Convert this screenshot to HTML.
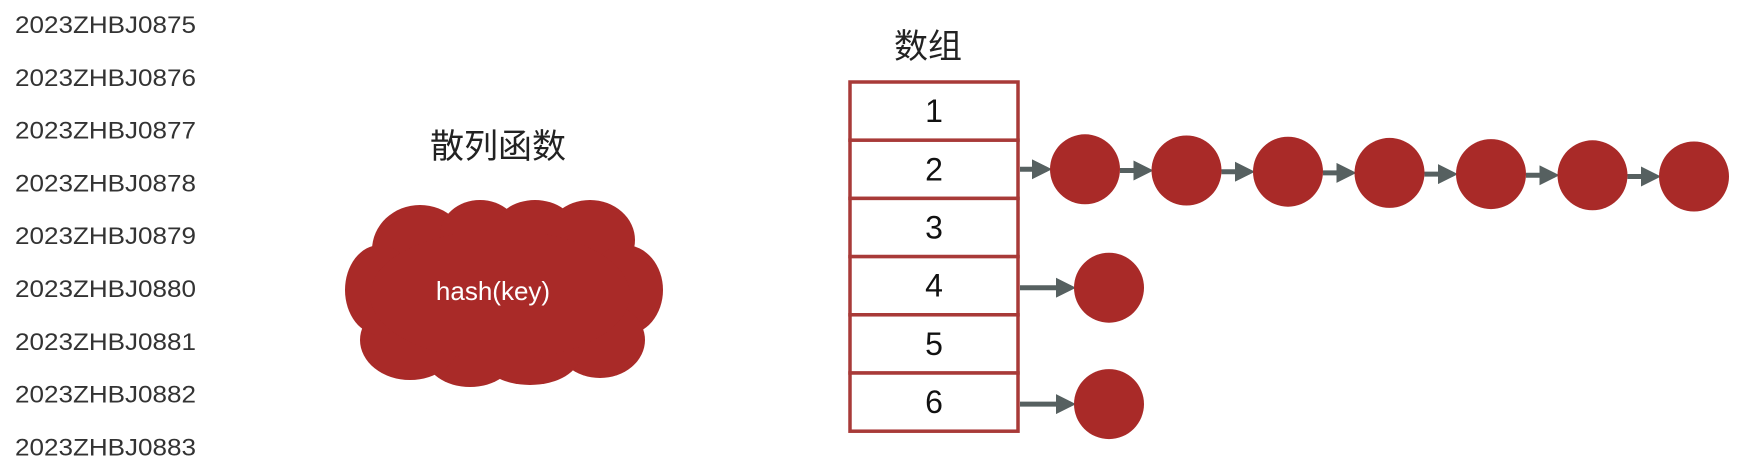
<!DOCTYPE html>
<html><head><meta charset="utf-8"><style>
html,body{margin:0;padding:0;background:#fff;width:1740px;height:462px;overflow:hidden}
text{font-family:"Liberation Sans","Noto Sans CJK SC",sans-serif}
</style></head><body>
<svg id="s" width="1740" height="462" viewBox="0 0 1740 462">
<defs><marker id="ah" markerWidth="4" markerHeight="4" refX="3" refY="2" orient="auto" markerUnits="strokeWidth"><path d="M0,0 L4,2 L0,4 z" fill="#566060"/></marker></defs>
<g id="labels"></g>
<text x="498" y="158" font-size="34" text-anchor="middle" fill="#222">散列函数</text>
<text x="928" y="58" font-size="34" text-anchor="middle" fill="#222">数组</text>
<g fill="#a92a28">
<ellipse cx="420" cy="250" rx="48" ry="45"/><ellipse cx="480" cy="235" rx="40" ry="35"/><ellipse cx="535" cy="230" rx="40" ry="30"/><ellipse cx="590" cy="240" rx="45" ry="40"/>
<ellipse cx="625" cy="290" rx="38" ry="45"/><ellipse cx="600" cy="340" rx="45" ry="38"/><ellipse cx="530" cy="355" rx="50" ry="30"/><ellipse cx="470" cy="355" rx="45" ry="32"/>
<ellipse cx="410" cy="340" rx="50" ry="40"/><ellipse cx="380" cy="290" rx="35" ry="45"/><ellipse cx="500" cy="295" rx="130" ry="65"/>
</g>
<text x="493" y="300" font-size="26" text-anchor="middle" fill="#fff">hash(key)</text>
<g id="arr"></g>
<g id="nodes"></g>
</svg>
<script>
const keys=["2023ZHBJ0875","2023ZHBJ0876","2023ZHBJ0877","2023ZHBJ0878","2023ZHBJ0879","2023ZHBJ0880","2023ZHBJ0881","2023ZHBJ0882","2023ZHBJ0883"];
const slots=["1","2","3","4","5","6"];
const chainLengths=[0,7,0,1,0,1];
const NS="http://www.w3.org/2000/svg";
function mk(t,a,p){const e=document.createElementNS(NS,t);for(const k in a)e.setAttribute(k,a[k]);p.appendChild(e);return e;}
const L=document.getElementById('labels');
keys.forEach((k,i)=>{const t=mk('text',{x:15,y:33+i*52.8,'font-size':24,fill:'#333',textLength:181,lengthAdjust:'spacingAndGlyphs'},L);t.textContent=k;

});
const A=document.getElementById('arr'),N=document.getElementById('nodes');
const bx=850,bw=168,boxTop=82,rh=58.2;
slots.forEach((s,i)=>{const y=boxTop+i*rh;
const r=mk('rect',{x:bx,y:y,width:bw,height:rh,fill:'#fff',stroke:'#a83a38','stroke-width':3.5},A);


const t=mk('text',{x:bx+bw/2,y:y+rh/2+11,'font-size':32,'text-anchor':'middle',fill:'#111'},A);t.textContent=s;


const n=chainLengths[i];const cy=y+rh/2;
let px=bx+bw+2;
for(let j=0;j<n;j++){const cx=(n>1?1085:1109)+j*101.5;const yy=cy+(n>1?j*1.2:2);
const ln=mk('line',{x1:px,y1:yy,x2:cx-38,y2:yy,stroke:'#566060','stroke-width':5,'marker-end':'url(#ah)'},N);


const c=mk('circle',{cx:cx,cy:yy,r:35,fill:'#a92a28'},N);


px=cx+35;}
});
</script>
</body></html>
